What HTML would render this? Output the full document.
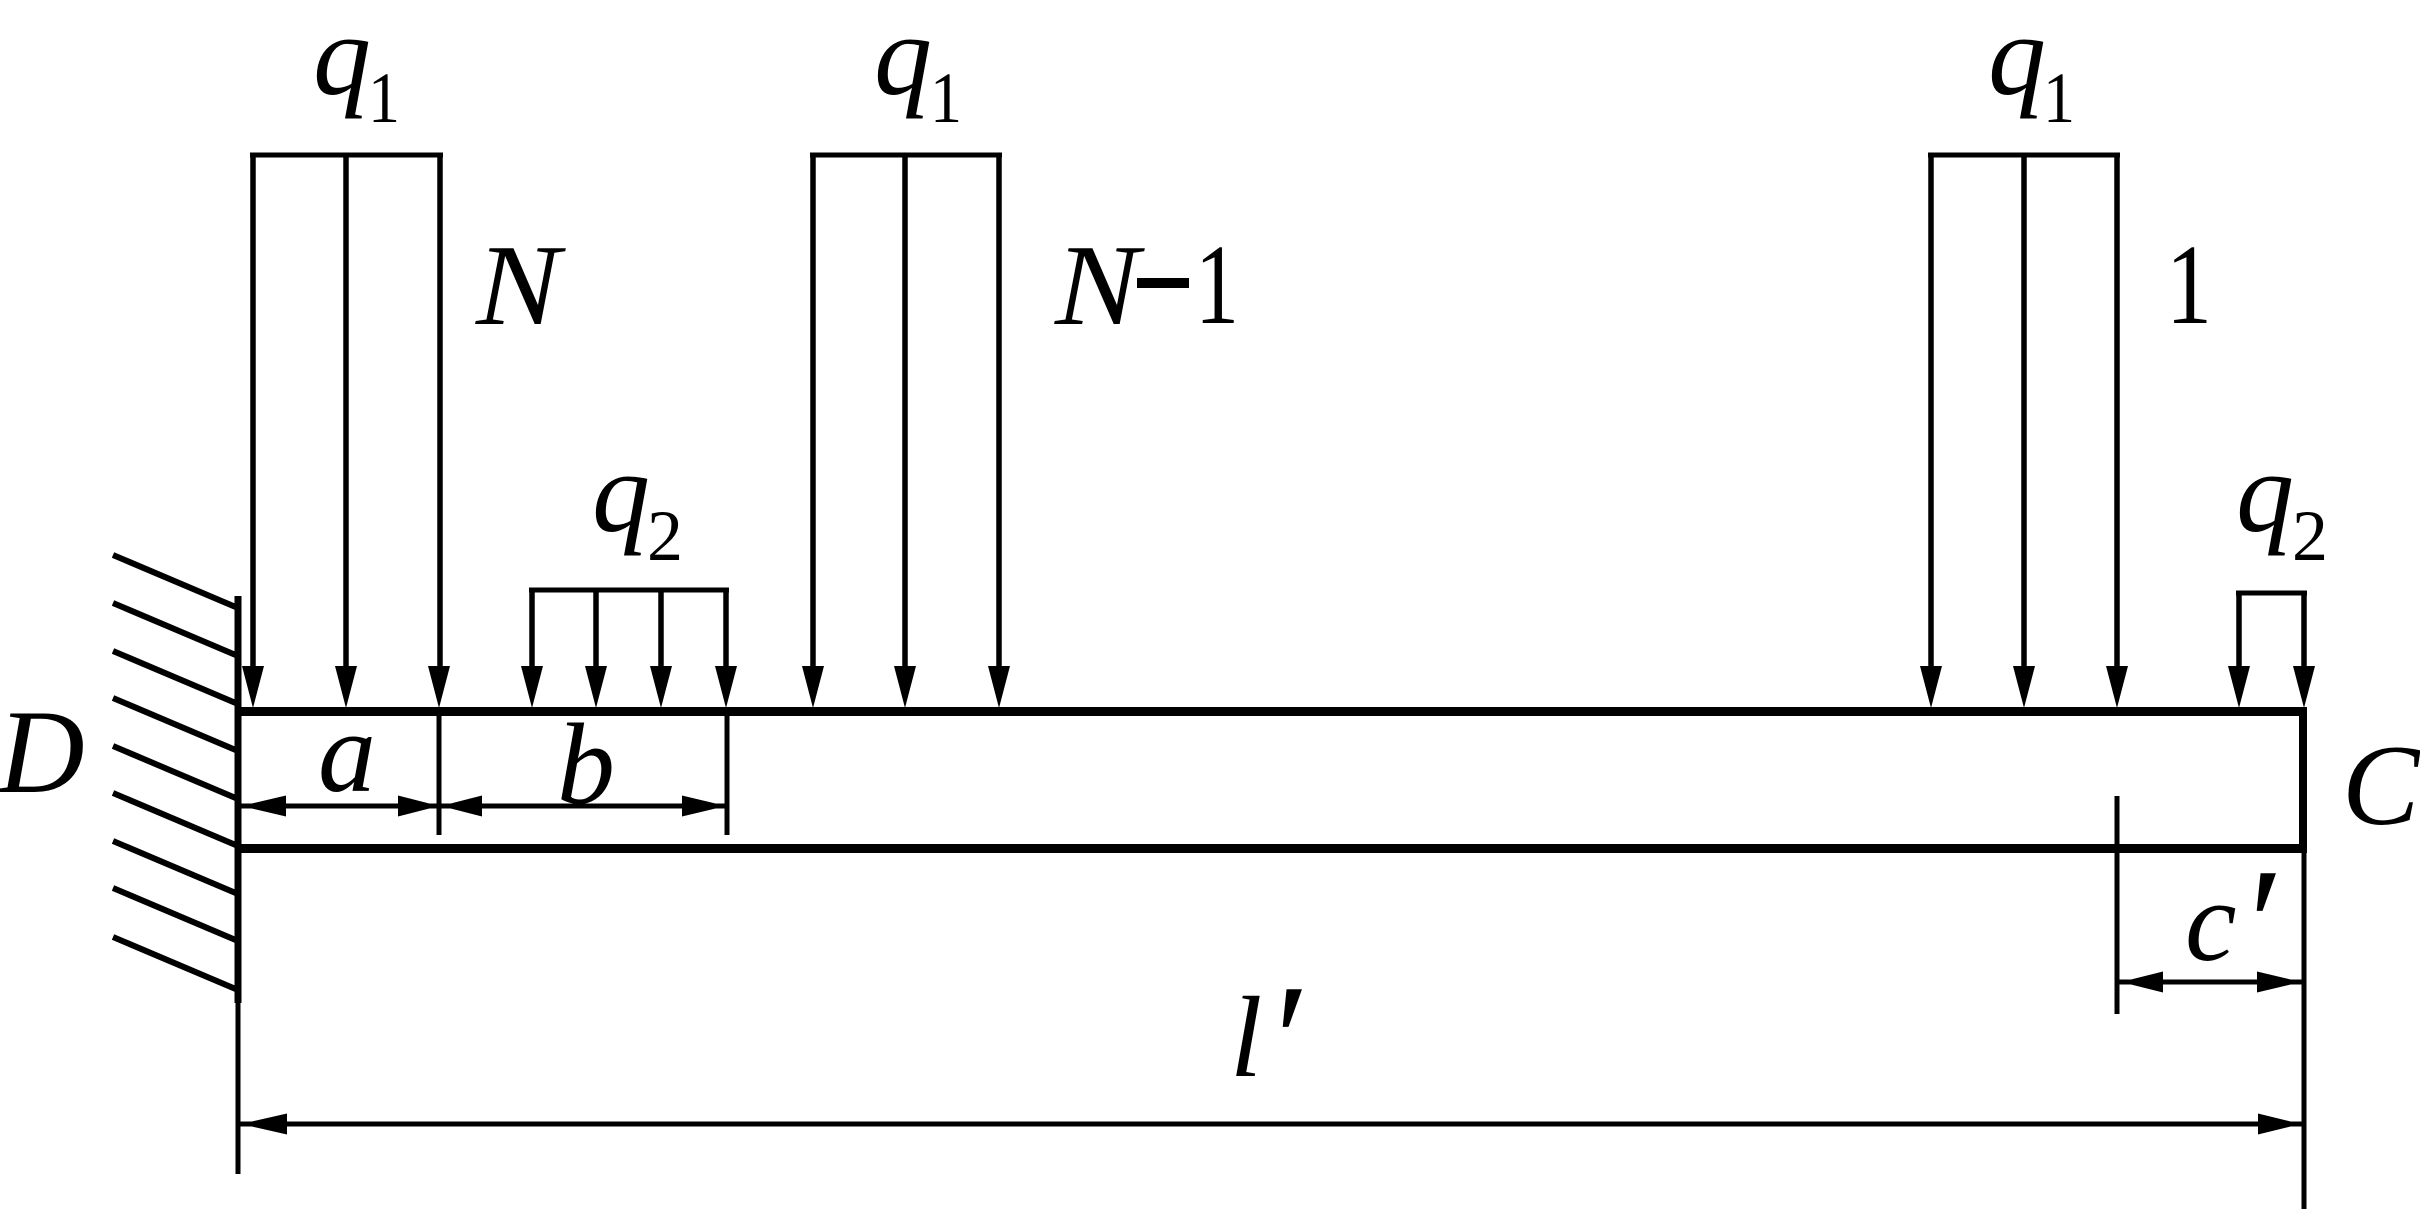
<!DOCTYPE html>
<html><head><meta charset="utf-8"><style>
html,body{margin:0;padding:0;background:#fff}
svg{display:block}
text{font-family:"Liberation Serif",serif;fill:#000}
.i{font-style:italic;font-size:116px}
.s{font-size:72px}
.n{font-size:114px}
.p{font-style:italic;font-size:160px}
</style></head><body>
<svg width="2420" height="1209" viewBox="0 0 2420 1209" xmlns="http://www.w3.org/2000/svg">
<rect width="2420" height="1209" fill="#fff"/>
<!-- hatch -->
<g stroke="#000" stroke-width="6" fill="none">
<path d="M113 555L238 608M113 603L238 656M113 651L238 704M113 698L238 751M113 746L238 799M113 793L238 846M113 841L238 894M113 888L238 941M113 937L238 990"/>
</g>
<!-- wall -->
<path d="M238 596V1003" stroke="#000" stroke-width="7"/>
<path d="M238 1003V1174" stroke="#000" stroke-width="5"/>
<!-- beam -->
<path d="M238 711.5H2306M238 848.5H2306" stroke="#000" stroke-width="9"/>
<path d="M2303 707V853" stroke="#000" stroke-width="8"/>
<!-- load lines -->
<g stroke="#000" stroke-width="5.5" fill="none">
<path d="M253 670V155M346 670V155M440 670V155"/>
<path d="M813 670V155M905 670V155M999 670V155"/>
<path d="M1931 670V155M2024 670V155M2117 670V155"/>
<path d="M532 670V590M596 670V590M661 670V590M726 670V590"/>
<path d="M2239 670V593M2304 670V593"/>
</g>
<g stroke="#000" stroke-width="5" fill="none">
<path d="M250 155H443M810 155H1002M1928 155H2120M529 590H729M2236 593H2307"/>
</g>
<!-- arrowheads -->
<g fill="#000">
<path d="M242 666H264L253 708Z"/><path d="M335 666H357L346 708Z"/><path d="M428 666H450L439 708Z"/>
<path d="M521 666H543L532 708Z"/><path d="M585 666H607L596 708Z"/><path d="M650 666H672L661 708Z"/><path d="M715 666H737L726 708Z"/>
<path d="M802 666H824L813 708Z"/><path d="M894 666H916L905 708Z"/><path d="M988 666H1010L999 708Z"/>
<path d="M1920 666H1942L1931 708Z"/><path d="M2013 666H2035L2024 708Z"/><path d="M2106 666H2128L2117 708Z"/>
<path d="M2228 666H2250L2239 708Z"/><path d="M2293 666H2315L2304 708Z"/>
</g>
<!-- dimension -->
<g stroke="#000" stroke-width="5" fill="none">
<path d="M439 711V835M727 711V835"/>
<path d="M2117 796V1014"/>
<path d="M2304 853V1209"/>
<path d="M241 806H727"/>
<path d="M2119 982H2302"/>
<path d="M240 1124H2302"/>
</g>
<g fill="#000">
<path d="M241 806L286 795.5V816.5Z"/><path d="M439 806L398 795.5V816.5Z"/><path d="M441 806L482 795.5V816.5Z"/><path d="M726 806L682 795.5V816.5Z"/>
<path d="M2121 982L2163 971.5V992.5Z"/><path d="M2301 982L2257 971.5V992.5Z"/>
<path d="M241 1124L287 1113.5V1134.5Z"/><path d="M2301 1124L2258 1113.5V1134.5Z"/>
</g>
<!-- labels -->
<text class="i" x="313" y="94">q</text><text class="s" x="368" y="122" textLength="32" lengthAdjust="spacingAndGlyphs">1</text>
<text class="i" x="874" y="94">q</text><text class="s" x="930" y="122" textLength="32" lengthAdjust="spacingAndGlyphs">1</text>
<text class="i" x="1988" y="94">q</text><text class="s" x="2043" y="122" textLength="32" lengthAdjust="spacingAndGlyphs">1</text>
<text class="i" x="476" y="324" textLength="84" lengthAdjust="spacingAndGlyphs">N</text>
<text class="i" x="1055" y="324" textLength="84" lengthAdjust="spacingAndGlyphs">N</text>
<rect x="1137" y="278" width="52" height="10" fill="#000"/>
<text class="n" x="1195" y="323" textLength="44" lengthAdjust="spacingAndGlyphs">1</text>
<text class="n" x="2166" y="323" textLength="46" lengthAdjust="spacingAndGlyphs">1</text>
<text class="i" x="592" y="531">q</text><text class="s" x="647" y="560">2</text>
<text class="i" x="2236" y="531">q</text><text class="s" x="2292" y="560">2</text>
<text class="i" x="-2" y="792" style="font-size:120px">D</text>
<text class="i" x="318" y="791">a</text>
<text class="i" x="557" y="803">b</text>
<text class="i" x="2342" y="824">C</text>
<text class="i" x="2185" y="960">c</text>
<text class="p" x="2239" y="978">′</text>
<text class="i" x="1230" y="1076">l</text>
<text class="p" x="1265" y="1094">′</text>
</svg>
</body></html>
